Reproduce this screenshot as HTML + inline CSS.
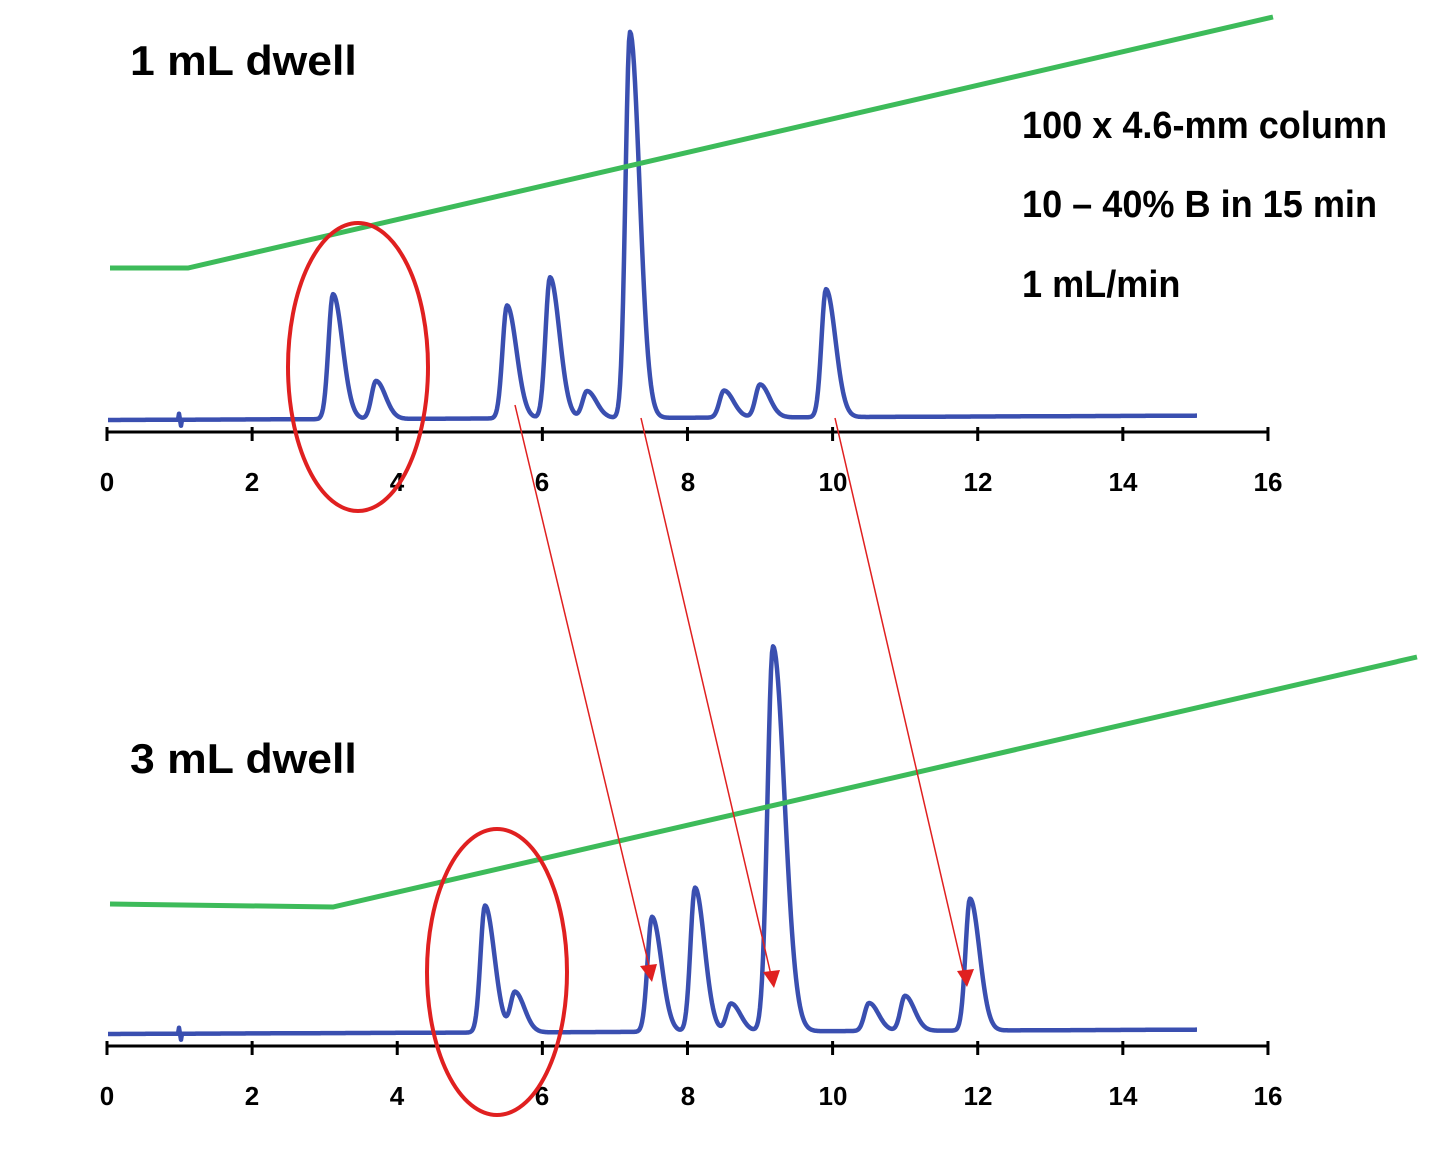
<!DOCTYPE html>
<html><head><meta charset="utf-8"><style>
body{margin:0;background:#fff}
svg{display:block}
text{font-family:"Liberation Sans",sans-serif;font-weight:bold;fill:#000}
</style></head><body>
<svg id="s" width="1440" height="1164" viewBox="0 0 1440 1164">
<g stroke="#000" stroke-width="3" fill="none">
<line x1="106" y1="432" x2="1269" y2="432"/>
<line x1="106" y1="1046" x2="1269" y2="1046"/>
<path id="ticks"/>
</g>
<g font-size="26" text-anchor="middle">
<text x="107" y="491">0</text><text x="252" y="491">2</text><text x="397" y="491">4</text><text x="542" y="491">6</text><text x="688" y="491">8</text><text x="833" y="491">10</text><text x="978" y="491">12</text><text x="1123" y="491">14</text><text x="1268" y="491">16</text>
<text x="107" y="1105">0</text><text x="252" y="1105">2</text><text x="397" y="1105">4</text><text x="542" y="1105">6</text><text x="688" y="1105">8</text><text x="833" y="1105">10</text><text x="978" y="1105">12</text><text x="1123" y="1105">14</text><text x="1268" y="1105">16</text>
</g>
<path id="t1" stroke="#3a4fb0" stroke-width="4.5" fill="none" stroke-linejoin="round"/>
<path id="t2" stroke="#3a4fb0" stroke-width="4.5" fill="none" stroke-linejoin="round"/>
<polyline points="110,268 188,268 1273,17" stroke="#3dbb5a" stroke-width="5" fill="none"/>
<polyline points="110,904 333,907 1417,657" stroke="#3dbb5a" stroke-width="5" fill="none"/>
<ellipse cx="358" cy="367" rx="70" ry="144" stroke="#e02020" stroke-width="4" fill="none"/>
<ellipse cx="497" cy="972" rx="70" ry="143" stroke="#e02020" stroke-width="4" fill="none"/>
<g stroke="#e02020" stroke-width="1.5">
<line x1="515" y1="405" x2="650" y2="970"/><line x1="641" y1="418" x2="771" y2="975"/><line x1="835" y1="418" x2="964" y2="975"/>
</g>
<g fill="#e02020">
<polygon points="640,966 657,964 652,982"/><polygon points="763,972 780,970 774,988"/><polygon points="957,971 974,969 967,987"/>
</g>
<g transform="translate(130,0) scale(1.06,1)">
<text x="0" y="75" font-size="42">1 mL dwell</text>
<text x="0" y="773" font-size="42">3 mL dwell</text>
</g>
<g font-size="38" transform="translate(1022,0) scale(0.95,1)">
<text x="0" y="138">100 x 4.6-mm column</text>
<text x="0" y="217">10 – 40% B in 15 min</text>
<text x="0" y="297">1 mL/min</text>
</g>
</svg>
<script>
var t="";for(var i=0;i<=16;i+=2){var x=107+i*72.56;t+="M"+x+",427L"+x+",441M"+x+",1041L"+x+",1055";}
document.getElementById("ticks").setAttribute("d",t);
function trace(base,peaks,inj){
 var d="",first=true;
 for(var x=108;x<=1197;x+=1){
  var y=base-(x-108)*0.004;
  for(var k=0;k<peaks.length;k++){var p=peaks[k],h=p[1],c=p[0],w=p[2]||4.5;var dx=x-c;
   var s=dx<0?w:w*2.1;y-=h*Math.exp(-dx*dx/(2*s*s));}
  if(Math.abs(x-inj)<2)y+=(x-inj)*6;
  d+=(first?"M":"L")+x+","+y.toFixed(1);first=false;}
 return d;}
document.getElementById("t1").setAttribute("d",trace(420,[[333,125],[376,38],[507,113],[550,141],[587,27],[630,386,4.5],[724,27],[760,33],[826,128]],180));
document.getElementById("t2").setAttribute("d",trace(1034,[[485,127],[515,40],[652,115],[695,144],[731,28],[773,385,5.5],[869,28],[905,35],[970,132]],180));
</script>
</body></html>
